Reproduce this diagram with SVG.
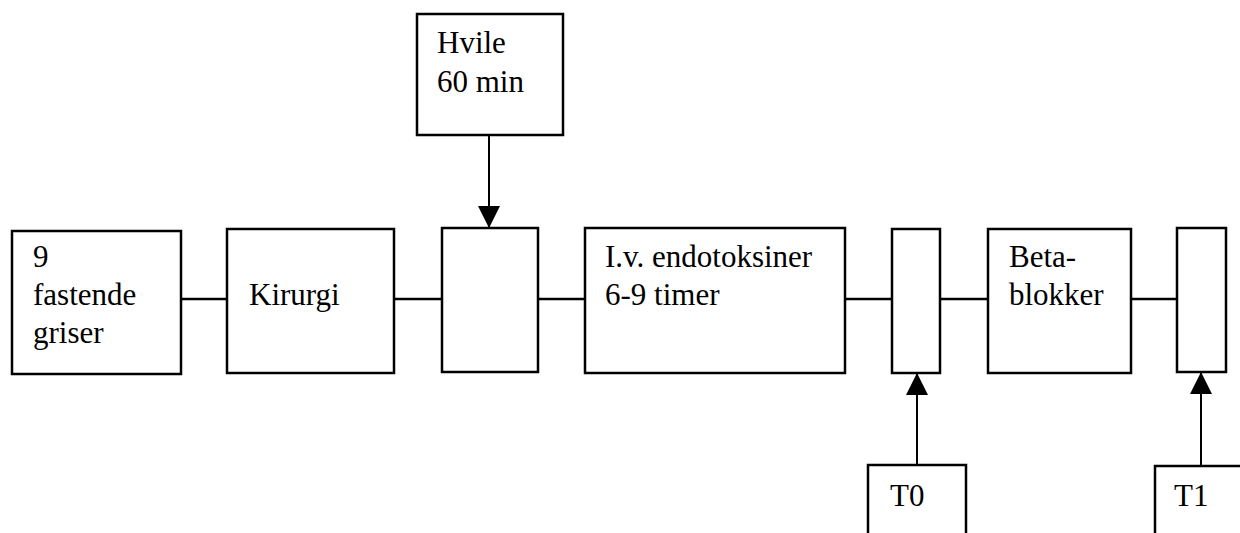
<svg xmlns="http://www.w3.org/2000/svg" width="1240" height="533" viewBox="0 0 1240 533">
<defs>
<style>
.box{fill:#fff;stroke:#000;stroke-width:2.5}
.con{stroke:#000;stroke-width:2.5;fill:none}
.arr{stroke:#000;stroke-width:2;fill:none;marker-end:url(#ah)}
</style>
<marker id="ah" markerUnits="userSpaceOnUse" markerWidth="22" markerHeight="22" viewBox="0 0 20 20" refX="20" refY="10" orient="auto">
<path d="M0,0 L20,10 L0,20 Z" fill="#000"/>
</marker>
</defs>
<g id="connectors">
<line class="con" x1="181" y1="299" x2="227" y2="299"/>
<line class="con" x1="394" y1="299" x2="442" y2="299"/>
<line class="con" x1="538" y1="299" x2="585" y2="299"/>
<line class="con" x1="845" y1="299" x2="892" y2="299"/>
<line class="con" x1="940" y1="299" x2="988" y2="299"/>
<line class="con" x1="1131" y1="299" x2="1177" y2="299"/>
<line class="arr" x1="489" y1="135" x2="489" y2="228"/>
<line class="arr" x1="917" y1="465" x2="917" y2="373"/>
<line class="arr" x1="1201" y1="466" x2="1201" y2="372"/>
</g>
<g id="n-griser">
<rect class="box" x="12" y="231" width="169" height="143"/>
<text x="33" y="267" font-size="31" font-family="Liberation Serif">9</text>
<text x="33" y="305" font-size="31" font-family="Liberation Serif">fastende</text>
<text x="33" y="343" font-size="31" font-family="Liberation Serif">griser</text>
</g>
<g id="n-kirurgi">
<rect class="box" x="227" y="229" width="167" height="144"/>
<text x="249" y="305" font-size="31" font-family="Liberation Serif">Kirurgi</text>
</g>
<g id="n-hvile">
<rect class="box" x="417" y="14" width="146" height="121"/>
<text x="437" y="53" font-size="31" font-family="Liberation Serif">Hvile</text>
<text x="437" y="92" font-size="31" font-family="Liberation Serif">60 min</text>
</g>
<g id="n-rest">
<rect class="box" x="442" y="228" width="96" height="144"/>
</g>
<g id="n-endotoksiner">
<rect class="box" x="585" y="228" width="260" height="145"/>
<text x="605" y="267" font-size="31" font-family="Liberation Serif">I.v. endotoksiner</text>
<text x="605" y="305" font-size="31" font-family="Liberation Serif">6-9 timer</text>
</g>
<g id="n-sample0">
<rect class="box" x="892" y="229" width="48" height="144"/>
</g>
<g id="n-beta">
<rect class="box" x="988" y="229" width="143" height="144"/>
<text x="1009" y="267" font-size="31" font-family="Liberation Serif">Beta-</text>
<text x="1009" y="305" font-size="31" font-family="Liberation Serif">blokker</text>
</g>
<g id="n-sample1">
<rect class="box" x="1177" y="228" width="49" height="144"/>
</g>
<g id="n-t0">
<rect class="box" x="868" y="465" width="98" height="90"/>
<text x="890" y="506" font-size="31" font-family="Liberation Serif">T0</text>
</g>
<g id="n-t1">
<rect class="box" x="1155" y="466" width="100" height="90"/>
<text x="1174" y="506" font-size="31" font-family="Liberation Serif">T1</text>
</g>
</svg>
